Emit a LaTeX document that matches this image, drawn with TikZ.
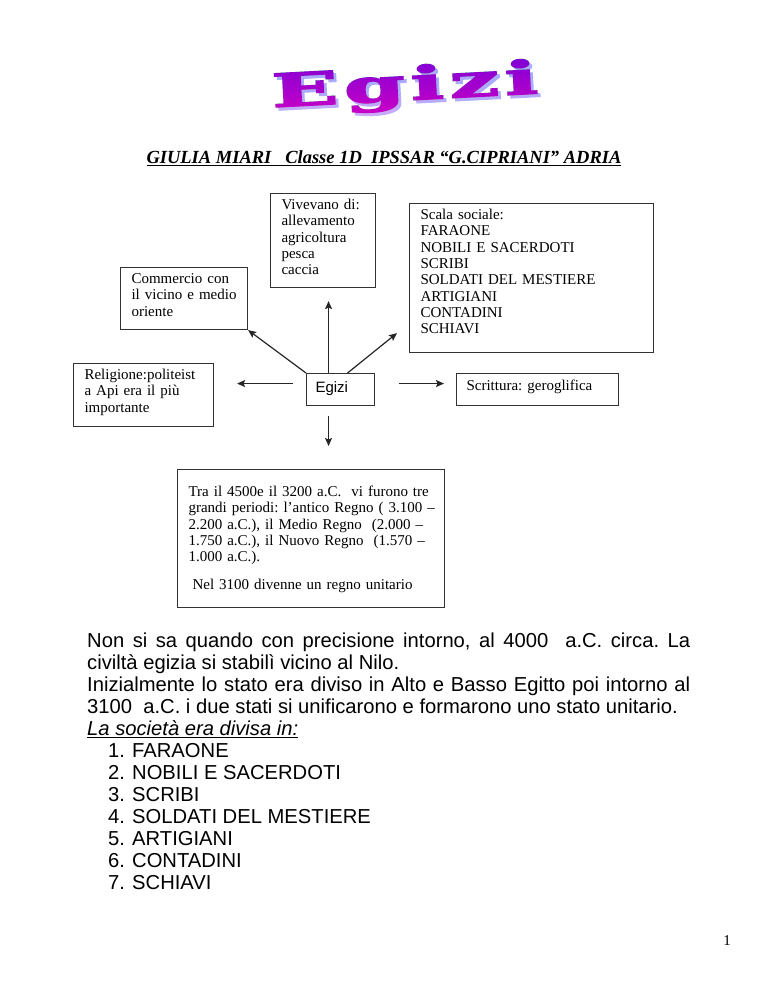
\documentclass[tikz,border=0pt]{standalone}
\usepackage{fontspec}
\setmainfont{Liberation Serif}
\newfontfamily\arialfont{Liberation Sans}
\newfontfamily\wordartfont{DejaVu Serif Bold}[FakeBold=2.5]
\usetikzlibrary{arrows.meta}
\frenchspacing

\newcommand{\boxfont}{\fontsize{15}{16.3}\selectfont}
\newcommand{\bodyfont}{\arialfont\fontsize{20.2}{22}\selectfont}
\newcommand{\artefont}{\wordartfont\fontsize{46}{46}\selectfont}
\newcommand{\sottolinea}[2][1.4pt]{\setbox0\hbox{#2}\rlap{\rule[-3pt]{\wd0}{#1}}\box0}
\newcommand{\egizitesto}{\scalebox{1.9}[1]{E\kern3pt g\kern3pt i\kern3pt z\kern3pt i}}

\definecolor{artetop}{RGB}{120,0,215}
\definecolor{artebottom}{RGB}{215,0,195}
\definecolor{arteombra}{RGB}{170,170,255}

\tikzset{
  box/.style={draw=black!80, line width=1.1pt, anchor=north west, inner xsep=11pt, inner ysep=0pt, align=left, font=\boxfont},
  arr/.style={-{Stealth[length=8pt,width=7pt,inset=1.5pt]}, line width=1.2pt, draw=black!85},
  body/.style={anchor=base west, inner sep=0pt, font=\bodyfont},
  arte/.style={inner sep=0pt, rotate=3, font=\artefont},
}

\begin{document}
\begin{tikzpicture}[x=1pt, y=-1pt]
  \path[use as bounding box, fill=white] (0,0) rectangle (768,994);

  % titolo
  \node[arte, text=arteombra] (ombra) at (408,91) {\egizitesto};
  \node[arte, text=black] (titolo) at (405,88) {\egizitesto};
  \shade[blend mode=lighten, top color=artetop, bottom color=artebottom] (240,52) rectangle (575,124);
  \node[anchor=base, inner sep=0pt, font=\fontsize{18.5}{20}\selectfont\bfseries\itshape] (header) at (384,163)
    {\sottolinea{GIULIA MIARI\ \ \ Classe 1D\ \ IPSSAR “G.CIPRIANI” ADRIA}};

  % mappa
  \node[box, text width=105pt, text height=16pt, text depth=46pt] (commercio) at (120,267)
    {Commercio con\\il vicino e medio\\oriente};
  \node[box, text width=83pt, text height=16pt, text depth=78pt] (vivevano) at (270,193)
    {Vivevano di:\\allevamento\\agricoltura\\pesca\\caccia};
  \node[box, text width=222pt, text height=16pt, text depth=133pt] (scala) at (409,203)
    {Scala sociale:\\FARAONE\\NOBILI E SACERDOTI\\SCRIBI\\SOLDATI DEL MESTIERE\\ARTIGIANI\\CONTADINI\\SCHIAVI};
  \node[box, text width=118pt, text height=16pt, text depth=47pt] (religione) at (73,363)
    {Religione:politeist\\a Api era il più\\importante};
  \node[box, inner xsep=9pt, text width=50pt, text height=19pt, text depth=13pt, font=\arialfont\fontsize{15}{17}\selectfont] (egizi) at (306,373)
    {Egizi};
  \node[box, inner xsep=10pt, text width=142pt, text height=17pt, text depth=15pt] (scrittura) at (456,373)
    {Scrittura: geroglifica};
  \node[box, text width=245pt, text height=27pt, text depth=111pt] (periodi) at (177,469)
    {\mbox{Tra il 4500e il 3200 a.C.~~vi furono tre}\\\mbox{grandi periodi: l’antico Regno ( 3.100 –}\\\mbox{2.200 a.C.), il Medio Regno~~(2.000 –}\\\mbox{1.750 a.C.), il Nuovo Regno~~(1.570 –}\\1.000 a.C.).\\[11.7pt]\hspace*{4pt}Nel 3100 divenne un regno unitario};

  \coordinate (scalatip) at ([xshift=-12pt,yshift=20pt]scala.south west);
  \draw[arr] (egizi.north west) -- (commercio.south east);
  \draw[arr, shorten >=13pt] ([xshift=-12pt]egizi.north) -- ([xshift=-12pt]egizi.north |- vivevano.south);
  \draw[arr] ([xshift=7pt]egizi.north) -- (scalatip);
  \draw[arr, shorten <=13pt, shorten >=23pt] ([yshift=6pt]egizi.west) -- ([yshift=6pt]egizi.west -| religione.east);
  \draw[arr, shorten <=24pt, shorten >=12pt] ([yshift=6pt]egizi.east) -- ([yshift=6pt]egizi.east -| scrittura.west);
  \draw[arr, shorten <=10pt, shorten >=23pt] ([xshift=-12pt]egizi.south) -- ([xshift=-12pt]egizi.south |- periodi.north);

  % testo
  \node[body] (riga1) at (87,647) {\makebox[603pt][s]{Non si sa quando con precisione intorno, al 4000\ \ a.C. circa. La}};
  \node[body] (riga2) at (87,669) {civiltà egizia si stabilì vicino al Nilo.};
  \node[body] (riga3) at (87,691) {\makebox[603pt][s]{Inizialmente lo stato era diviso in Alto e Basso Egitto poi intorno al}};
  \node[body] (riga4) at (87,713) {3100\ \ a.C. i due stati si unificarono e formarono uno stato unitario.};
  \node[body] (riga5) at (87,735) {\sottolinea[1.2pt]{\itshape La società era divisa in:}};
  \foreach \voce [count=\n] in {FARAONE, NOBILI E SACERDOTI, SCRIBI, SOLDATI DEL MESTIERE, ARTIGIANI, CONTADINI, SCHIAVI}
    \node[body] (voce\n) at (108,735+22*\n) {\makebox[24pt][l]{\n.}\voce};

  \node[anchor=base east, inner sep=0pt, font=\fontsize{15}{17}\selectfont] (pagina) at (731,945) {1};
\end{tikzpicture}
\end{document}
